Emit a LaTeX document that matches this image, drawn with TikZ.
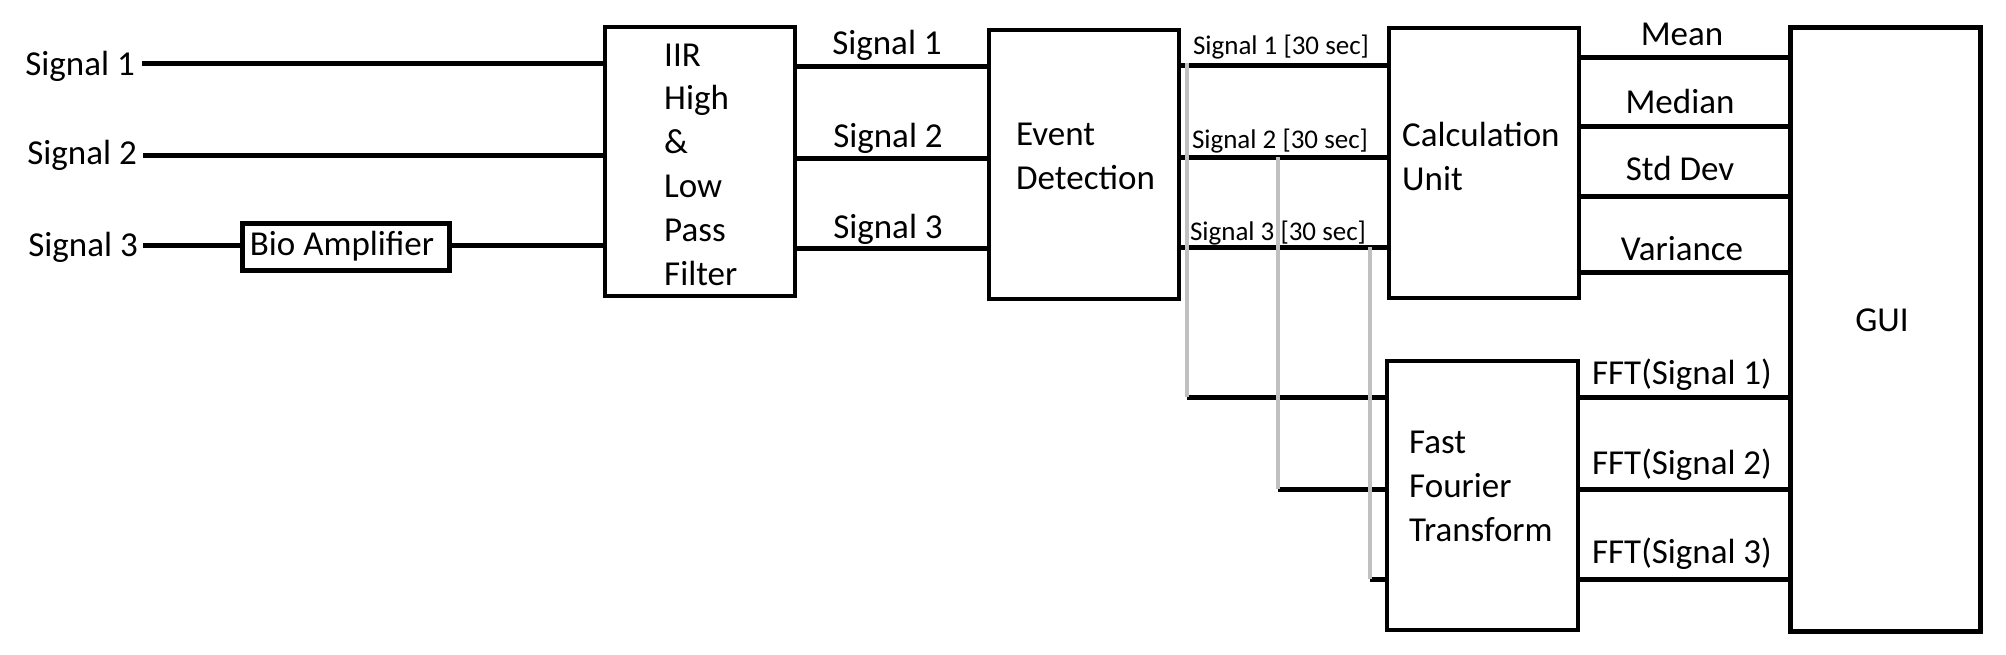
\documentclass[tikz,border=0pt]{standalone}
\usepackage{fontspec}
\setmainfont{Carlito}
\definecolor{tapgray}{RGB}{192,192,192}
\begin{document}
\begin{tikzpicture}[x=1pt,y=-1pt,
  box/.style={draw, line width=4pt, inner sep=0pt},
  wire/.style={line width=5pt},
  tap/.style={line width=4pt, draw=tapgray},
  txt/.style={inner sep=0pt, font=\fontsize{35}{43.8}\selectfont},
  small/.style={inner sep=0pt, font=\fontsize{27}{33}\selectfont}]
\useasboundingbox (0,0) rectangle (2006,654);
\fill[white] (0,0) rectangle (2006,654);
% boxes
\node[box, line width=5pt, minimum width=207pt, minimum height=47pt] (bio) at (345.5,246.5) {};
\node[box, minimum width=190pt, minimum height=269pt] (iir) at (700,161.5) {};
\node[box, minimum width=190pt, minimum height=269pt] (ev) at (1084,164.5) {};
\node[box, minimum width=190pt, minimum height=270pt] (calc) at (1484,163) {};
\node[box, minimum width=191pt, minimum height=269pt] (fft) at (1482.5,495.5) {};
\node[box, line width=5pt, minimum width=190pt, minimum height=604pt] (gui) at (1885,329) {};
% box texts (base anchor = baseline of the last line)
\node[txt, anchor=base] (biot) at (342,255) {Bio Amplifier};
\node[txt, anchor=base west, align=left] (iirt) at (664,285) {IIR\\High\\\&\\Low\\Pass\\Filter};
\node[txt, anchor=base west, align=left] (evt) at (1016,189) {Event\\Detection};
\node[txt, anchor=base west, align=left] (calct) at (1402,190) {Calculation\\Unit};
\node[txt, anchor=base west, align=left] (fftt) at (1409,541) {Fast\\Fourier\\Transform};
\node[txt, anchor=base] (guit) at (1882,331) {GUI};
% input labels
\node[txt, anchor=base east] (l1) at (135,75) {Signal 1};
\node[txt, anchor=base east] (l2) at (137,164) {Signal 2};
\node[txt, anchor=base east] (l3) at (138,256) {Signal 3};
\coordinate (in1) at (142,63);
\coordinate (in2) at (143,155);
\coordinate (in3) at (143,245);
\draw[wire] (in1) -- (iir.west |- in1);
\draw[wire] (in2) -- (iir.west |- in2);
\draw[wire] (in3) -- (bio.west |- in3);
\draw[wire] (bio.east |- in3) -- (iir.west |- in3);
% filter -> event
\draw[wire] (iir.east |- 0,66) -- (ev.west |- 0,66);
\draw[wire] (iir.east |- 0,158) -- (ev.west |- 0,158);
\draw[wire] (iir.east |- 0,248) -- (ev.west |- 0,248);
\node[txt, anchor=base] (m1) at (887,54) {Signal 1};
\node[txt, anchor=base] (m2) at (888,147) {Signal 2};
\node[txt, anchor=base] (m3) at (888,238) {Signal 3};
% event -> calculation
\draw[wire] (ev.east |- 0,65) -- (calc.west |- 0,65);
\draw[wire] (ev.east |- 0,157) -- (calc.west |- 0,157);
\draw[wire] (ev.east |- 0,247) -- (calc.west |- 0,247);
\node[small, anchor=base] (w1) at (1281,54) {Signal 1 [30 sec]};
\node[small, anchor=base] (w2) at (1280,148) {Signal 2 [30 sec]};
\node[small, anchor=base] (w3) at (1278,240) {Signal 3 [30 sec]};
% taps to FFT
\coordinate (t1) at (1187,63);
\coordinate (t2) at (1278,157);
\coordinate (t3) at (1370,247);
\coordinate (b1) at (1187,397);
\coordinate (b2) at (1278,489);
\coordinate (b3) at (1370,579);
\draw[wire] (b1) -- (fft.west |- b1);
\draw[wire] (b2) -- (fft.west |- b2);
\draw[wire] (b3) -- (fft.west |- b3);
\draw[tap] (t1) -- (b1);
\draw[tap] (t2) -- (b2);
\draw[tap] (t3) -- (b3);
% calculation -> GUI
\draw[wire] (calc.east |- 0,57) -- (gui.west |- 0,57);
\draw[wire] (calc.east |- 0,126) -- (gui.west |- 0,126);
\draw[wire] (calc.east |- 0,196) -- (gui.west |- 0,196);
\draw[wire] (calc.east |- 0,272) -- (gui.west |- 0,272);
\node[txt, anchor=base] (o1) at (1682,45) {Mean};
\node[txt, anchor=base] (o2) at (1680,113) {Median};
\node[txt, anchor=base] (o3) at (1680,180) {Std Dev};
\node[txt, anchor=base] (o4) at (1682,260) {Variance};
% FFT -> GUI
\draw[wire] (fft.east |- b1) -- (gui.west |- b1);
\draw[wire] (fft.east |- b2) -- (gui.west |- b2);
\draw[wire] (fft.east |- b3) -- (gui.west |- b3);
\node[txt, anchor=base] (f1) at (1682,384) {FFT(Signal 1)};
\node[txt, anchor=base] (f2) at (1682,474) {FFT(Signal 2)};
\node[txt, anchor=base] (f3) at (1682,563) {FFT(Signal 3)};
\end{tikzpicture}
\end{document}
